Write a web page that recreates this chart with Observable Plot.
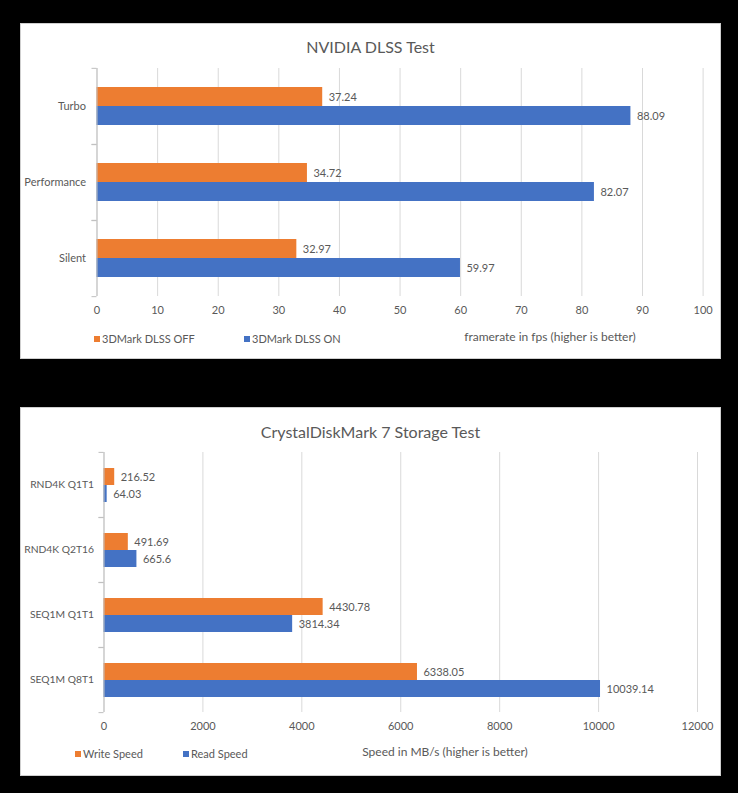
<!DOCTYPE html>
<html><head><meta charset="utf-8">
<script src="https://cdn.jsdelivr.net/npm/d3@7"></script>
<script src="https://cdn.jsdelivr.net/npm/@observablehq/plot@0.6"></script>
<style>
html,body{margin:0;padding:0;}
body{background:#000;width:738px;height:793px;position:relative;overflow:hidden;font-family:Lato,"Liberation Sans",sans-serif;color:#595959;}
.panel{position:absolute;left:21px;width:699px;background:#fff;box-shadow:0 0 0 1px #cfcfcf;}
.panel svg{position:absolute;left:0;top:0;overflow:visible;}
.title{position:absolute;left:0;width:699px;text-align:center;font-size:16px;line-height:20px;transform:translateY(-50%);color:#595959;}
.lab{position:absolute;white-space:nowrap;line-height:14px;transform:translateY(-50%);}
.sw{position:absolute;width:6px;height:6px;transform:translateY(-50%);}
</style>
</head><body>
<div class="panel" id="p1" style="top:24px;height:334px;"></div>
<div class="panel" id="p2" style="top:408px;height:367px;"></div>
<script>
// ---- data: NVIDIA DLSS Test ----
const dlssModes = ["Turbo", "Performance", "Silent"];
const dlssSeries = ["3DMark DLSS OFF", "3DMark DLSS ON"];
const dlssOff = [37.24, 34.72, 32.97];
const dlssOn = [88.09, 82.07, 59.97];
const dlssTicks = [0, 10, 20, 30, 40, 50, 60, 70, 80, 90, 100];
const dlssTitle = "NVIDIA DLSS Test";
const dlssAxisTitle = "framerate in fps (higher is better)";

// ---- data: CrystalDiskMark 7 Storage Test ----
const storageTests = ["RND4K Q1T1", "RND4K Q2T16", "SEQ1M Q1T1", "SEQ1M Q8T1"];
const storageSeries = ["Write Speed", "Read Speed"];
const writeSpeed = [216.52, 491.69, 4430.78, 6338.05];
const readSpeed = [64.03, 665.6, 3814.34, 10039.14];
const storageTicks = [0, 2000, 4000, 6000, 8000, 10000, 12000];
const storageTitle = "CrystalDiskMark 7 Storage Test";
const storageAxisTitle = "Speed in MB/s (higher is better)";

const seriesColors = ["#ED7D31", "#4472C4"];
const textColor = "#595959";
const fontFamily = 'Lato, "Liberation Sans", sans-serif';

function makeChart(panel, cfg) {
  const rows = [];
  cfg.cats.forEach((c, i) => {
    rows.push({cat: c, series: cfg.series[0], value: cfg.a[i]});
    rows.push({cat: c, series: cfg.series[1], value: cfg.b[i]});
  });
  const band = (cfg.height - cfg.mt - cfg.mb) / cfg.cats.length;
  const fmt = d3.format("d");
  const chart = Plot.plot({
    width: 699, height: cfg.height,
    marginTop: cfg.mt, marginBottom: cfg.mb, marginLeft: cfg.ml, marginRight: cfg.mr,
    style: {fontFamily, fontSize: "11px", color: textColor, background: "transparent", overflow: "visible"},
    x: {domain: [cfg.ticks[0], cfg.ticks[cfg.ticks.length - 1]], ticks: cfg.ticks, tickFormat: fmt},
    y: {domain: cfg.series, axis: null, paddingInner: 0, paddingOuter: cfg.pad},
    fy: {domain: cfg.cats, padding: 0, label: null},
    color: {domain: cfg.series, range: seriesColors},
    marks: [
      Plot.gridX({ticks: cfg.ticks, stroke: "#d9d9d9", strokeOpacity: 1}),
      Plot.barX(rows, {fy: "cat", y: "series", x: "value", fill: "series"}),
      Plot.text(rows, {fy: "cat", y: "series", x: "value", text: d => String(d.value),
        textAnchor: "start", dx: 6, fill: textColor, fontSize: 11}),
      Plot.ruleX([0], {stroke: "#bfbfbf"}),
      Plot.axisX({ticks: cfg.ticks, tickSize: 0, tickPadding: 10, label: null, tickFormat: fmt, fill: textColor}),
      Plot.axisFy({anchor: "left", tickSize: 0, tickPadding: cfg.catPad, fontSize: cfg.catSize, label: null, fill: textColor}),
      Plot.axisFy({anchor: "left", text: null, tickSize: 5, dy: -band / 2, stroke: "#bfbfbf", label: null}),
      Plot.axisFy({anchor: "left", text: null, tickSize: 5, dy: band / 2, stroke: "#bfbfbf", label: null})
    ]
  });
  panel.appendChild(chart);
  const t = document.createElement("div");
  t.className = "title"; t.style.top = cfg.titleY + "px"; t.textContent = cfg.title;
  panel.appendChild(t);
  cfg.series.forEach((s, i) => {
    const sw = document.createElement("div");
    sw.className = "sw"; sw.style.left = cfg.legX[i] + "px"; sw.style.top = cfg.legY + "px";
    sw.style.background = seriesColors[i];
    panel.appendChild(sw);
    const l = document.createElement("div");
    l.className = "lab"; l.style.left = (cfg.legX[i] + 8) + "px"; l.style.top = cfg.legY + "px";
    l.style.fontSize = "11px"; l.textContent = s;
    panel.appendChild(l);
  });
  const at = document.createElement("div");
  at.className = "lab"; at.style.left = cfg.axX + "px"; at.style.top = cfg.axY + "px";
  at.style.fontSize = "12px"; at.style.transform = "translate(-50%,-50%)"; at.textContent = cfg.axisTitle;
  panel.appendChild(at);
}

makeChart(document.getElementById("p1"), {
  cats: dlssModes, series: dlssSeries, a: dlssOff, b: dlssOn, ticks: dlssTicks,
  title: dlssTitle, axisTitle: dlssAxisTitle,
  height: 300, mt: 43, mb: 28, ml: 75.5, mr: 17.4, pad: 0.9125, catPad: 11, catSize: 11,
  titleY: 23, legX: [73, 223], legY: 315, axX: 529, axY: 313
});
makeChart(document.getElementById("p2"), {
  cats: storageTests, series: storageSeries, a: writeSpeed, b: readSpeed, ticks: storageTicks,
  title: storageTitle, axisTitle: storageAxisTitle,
  height: 332, mt: 43, mb: 28, ml: 82.5, mr: 23, pad: 0.9, catPad: 10, catSize: 10.3,
  titleY: 24, legX: [54, 162], legY: 346, axX: 424, axY: 344
});
</script>
</body></html>
